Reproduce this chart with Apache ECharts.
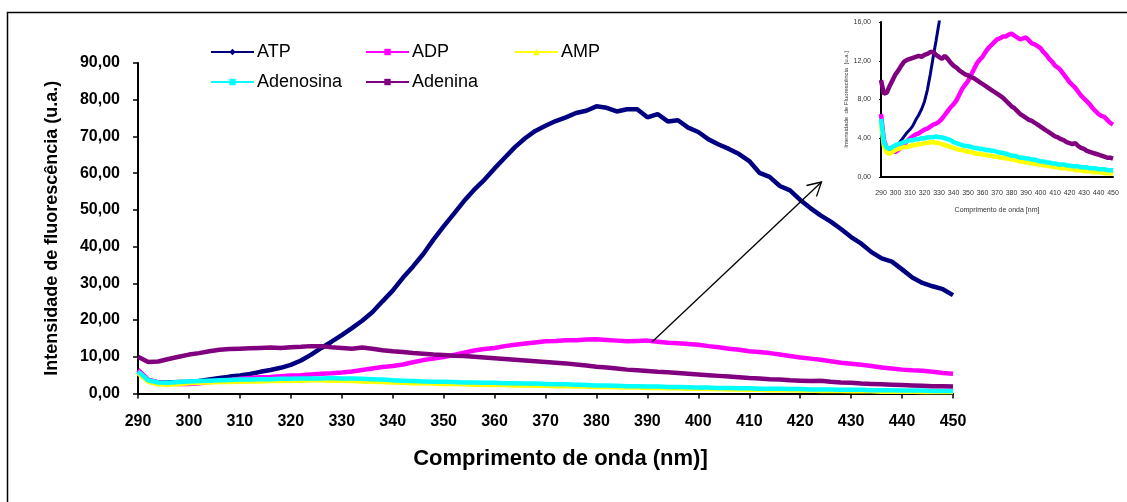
<!DOCTYPE html>
<html>
<head>
<meta charset="utf-8">
<script src="https://cdn.jsdelivr.net/npm/echarts@6/dist/echarts.min.js"></script>
<style>
  html, body { margin: 0; padding: 0; background: #fff; }
  #chart { width: 1127px; height: 502px; }
</style>
</head>
<body>
<div id="chart"></div>
<script>
// Emission spectra (fluorescence intensity, u.a.) vs wavelength (nm)
const wavelengths = [
  290,292,294,296,298,300,302,304,306,308,310,312,314,316,318,320,322,324,326,328,
  330,332,334,336,338,340,342,344,346,348,350,352,354,356,358,360,362,364,366,368,
  370,372,374,376,378,380,382,384,386,388,390,392,394,396,398,400,402,404,406,408,
  410,412,414,416,418,420,422,424,426,428,430,432,434,436,438,440,442,444,446,448,450
];

const atp = [
  6.0,3.6,3.0,3.0,3.1,3.2,3.4,3.8,4.2,4.6,4.9,5.3,5.9,6.4,7.0,7.8,9.0,10.6,12.4,14.1,
  15.9,17.8,19.8,22.1,25.1,28.0,31.5,34.6,38.0,41.9,45.5,48.9,52.4,55.5,58.2,61.3,64.2,67.1,69.5,71.5,
  72.9,74.2,75.2,76.4,77.0,78.2,77.8,76.8,77.4,77.4,75.2,76.1,74.1,74.4,72.4,71.2,69.2,67.8,66.6,65.2,
  63.3,60.1,59.0,56.5,55.3,52.7,50.5,48.5,46.8,44.8,42.6,40.8,38.5,36.8,35.9,33.8,31.6,30.1,29.2,28.4,26.8
];

const adp = [
  6.5,3.8,3.0,2.8,2.6,2.6,2.8,3.1,3.4,3.7,4.0,4.2,4.4,4.5,4.7,4.9,5.0,5.2,5.4,5.5,
  5.7,6.0,6.4,6.8,7.2,7.5,7.9,8.5,9.1,9.5,9.9,10.5,11.1,11.7,12.1,12.4,12.9,13.3,13.6,13.9,
  14.2,14.3,14.5,14.5,14.7,14.8,14.6,14.4,14.2,14.3,14.4,14.1,13.8,13.7,13.5,13.3,12.9,12.6,12.2,11.9,
  11.5,11.3,11.0,10.6,10.2,9.8,9.5,9.2,8.8,8.4,8.1,7.8,7.5,7.1,6.8,6.5,6.3,6.2,5.9,5.6,5.4
];

const amp = [
  5.5,3.2,2.5,2.4,2.6,2.8,2.9,3.0,3.1,3.1,3.2,3.3,3.3,3.4,3.4,3.5,3.5,3.6,3.6,3.5,
  3.5,3.4,3.3,3.2,3.1,3.0,2.9,2.8,2.8,2.7,2.6,2.6,2.5,2.4,2.4,2.3,2.3,2.2,2.2,2.1,
  2.1,2.0,2.0,1.9,1.9,1.8,1.8,1.7,1.6,1.6,1.5,1.5,1.4,1.4,1.3,1.3,1.2,1.2,1.1,1.1,
  1.0,1.0,0.9,0.9,0.9,0.8,0.8,0.7,0.7,0.7,0.6,0.6,0.6,0.5,0.5,0.5,0.5,0.4,0.4,0.4,0.4
];

const adenosina = [
  6.0,3.6,3.0,2.9,3.1,3.3,3.4,3.5,3.6,3.7,3.8,3.8,3.9,3.9,4.0,4.0,4.1,4.1,4.1,4.2,
  4.1,4.1,4.0,3.9,3.8,3.6,3.5,3.4,3.3,3.2,3.2,3.1,3.0,3.0,2.9,2.9,2.8,2.8,2.7,2.7,
  2.6,2.5,2.5,2.4,2.3,2.2,2.2,2.1,2.0,2.0,1.9,1.9,1.8,1.8,1.7,1.6,1.6,1.5,1.5,1.4,
  1.4,1.3,1.3,1.3,1.2,1.2,1.1,1.1,1.1,1.0,1.0,1.0,0.9,0.9,0.9,0.8,0.8,0.8,0.7,0.7,0.7
];

const adenina = [
  10.0,8.6,8.7,9.4,10.0,10.6,11.0,11.5,11.9,12.1,12.2,12.3,12.4,12.5,12.4,12.6,12.7,12.9,12.9,12.6,
  12.4,12.2,12.5,12.2,11.8,11.5,11.3,11.0,10.8,10.6,10.5,10.3,10.2,10.0,9.8,9.6,9.4,9.2,9.0,8.8,
  8.6,8.4,8.2,7.9,7.6,7.3,7.1,6.8,6.5,6.3,6.1,5.9,5.8,5.6,5.4,5.2,5.0,4.8,4.6,4.4,
  4.2,4.1,3.9,3.8,3.6,3.5,3.4,3.5,3.2,3.0,2.9,2.7,2.6,2.5,2.4,2.3,2.2,2.1,2.0,2.0,1.9
];

const seriesDefs = [
  { name: 'ATP',       data: atp,       color: '#000080', symbol: 'diamond' },
  { name: 'ADP',       data: adp,       color: '#FF00FF', symbol: 'rect' },
  { name: 'AMP',       data: amp,       color: '#FFFF00', symbol: 'triangle' },
  { name: 'Adenosina', data: adenosina, color: '#00FFFF', symbol: 'rect' },
  { name: 'Adenina',   data: adenina,   color: '#800080', symbol: 'rect' }
];

const FONT = 'Arial, "Liberation Sans", sans-serif';
const fmt = v => v.toFixed(2).replace('.', ',');
const pairs = arr => wavelengths.map((w, i) => [w, arr[i]]);

const series = [];
seriesDefs.forEach(d => {
  // main plot
  series.push({
    name: d.name, type: 'line', xAxisIndex: 0, yAxisIndex: 0,
    data: pairs(d.data), symbol: d.symbol, symbolSize: 5, showSymbol: false,
    color: d.color, lineStyle: { width: 4.5, color: d.color }, animation: false, z: 3
  });
  // zoomed inset
  series.push({
    name: d.name, type: 'line', xAxisIndex: 1, yAxisIndex: 1,
    data: pairs(d.data), symbol: d.symbol, symbolSize: 5, showSymbol: false,
    color: d.color, lineStyle: { width: d.name === 'ATP' ? 3 : 4.5, color: d.color },
    animation: false, clip: true, z: 3
  });
});

const legendBase = {
  orient: 'vertical', itemWidth: 43, itemHeight: 8, itemGap: 12,
  textStyle: { fontFamily: FONT, fontSize: 18, color: '#000', padding: [0, 0, 0, -2] },
  selectedMode: false
};

const option = {
  backgroundColor: '#fff',
  animation: false,
  legend: [
    Object.assign({}, legendBase, { left: 205, top: 38, data: ['ATP', 'Adenosina'] }),
    Object.assign({}, legendBase, { left: 360, top: 38, data: ['ADP', 'Adenina'] }),
    Object.assign({}, legendBase, { left: 509, top: 38, data: ['AMP'] })
  ],
  grid: [
    { left: 138, right: 174, top: 63, bottom: 108.5, containLabel: false },
    { left: 881, right: 14, top: 22, bottom: 325, containLabel: false }
  ],
  xAxis: [
    {
      type: 'value', gridIndex: 0, min: 290, max: 450, interval: 10,
      name: 'Comprimento de onda (nm)]', nameLocation: 'middle', nameGap: 54,
      nameTextStyle: { fontFamily: FONT, fontSize: 22, fontWeight: 'bold', color: '#000', padding: [0, 0, 0, 30] },
      axisLine: { onZero: false, lineStyle: { color: '#000', width: 2 } },
      axisTick: { show: true, length: 5, lineStyle: { color: '#000', width: 1.5 } },
      axisLabel: { fontFamily: FONT, fontSize: 16, fontWeight: 'bold', color: '#000', margin: 20 },
      splitLine: { show: false }
    },
    {
      type: 'value', gridIndex: 1, min: 290, max: 450, interval: 10,
      name: 'Comprimento de onda [nm]', nameLocation: 'middle', nameGap: 30,
      nameTextStyle: { fontFamily: FONT, fontSize: 7, color: '#333' },
      axisLine: { onZero: false, lineStyle: { color: '#000', width: 2 } },
      axisTick: { show: false },
      axisLabel: { fontFamily: FONT, fontSize: 7, color: '#333', margin: 13 },
      splitLine: { show: false }
    }
  ],
  yAxis: [
    {
      type: 'value', gridIndex: 0, min: 0, max: 90, interval: 10,
      name: 'Intensidade de fluorescência (u.a.)', nameLocation: 'middle', nameGap: 77,
      nameTextStyle: { fontFamily: FONT, fontSize: 18, fontWeight: 'bold', color: '#000' },
      axisLine: { show: true, lineStyle: { color: '#000', width: 2 } },
      axisTick: { show: true, length: 5, lineStyle: { color: '#000', width: 1.5 } },
      axisLabel: { fontFamily: FONT, fontSize: 16, fontWeight: 'bold', color: '#000', margin: 18, formatter: fmt },
      splitLine: { show: false }
    },
    {
      type: 'value', gridIndex: 1, min: 0, max: 16, interval: 4,
      name: 'Intensidade  de Fluorescência  [u.a.]', nameLocation: 'middle', nameGap: 30,
      nameTextStyle: { fontFamily: FONT, fontSize: 6, color: '#333' },
      axisLine: { show: true, lineStyle: { color: '#000', width: 2 } },
      axisTick: { show: true, length: 2, lineStyle: { color: '#000', width: 1 } },
      axisLabel: { fontFamily: FONT, fontSize: 7, color: '#333', margin: 10, formatter: fmt },
      splitLine: { show: false }
    }
  ],
  graphic: [
    // outer frame (left and top edges visible)
    { type: 'rect', shape: { x: 7.5, y: 12.5, width: 1300, height: 700 },
      style: { fill: 'none', stroke: '#000', lineWidth: 1.5 }, silent: true, z: 10 },
    // arrow pointing from the ADP band to the inset
    { type: 'line', shape: { x1: 652, y1: 342, x2: 821.5, y2: 182 },
      style: { stroke: '#000', lineWidth: 1.3 }, silent: true, z: 10 },
    { type: 'polyline', shape: { points: [[806.5, 185.5], [821.5, 182], [816.5, 196.5]] },
      style: { stroke: '#000', lineWidth: 1.3, fill: 'none' }, silent: true, z: 10 }
  ],
  series: series
};

const chart = echarts.init(document.getElementById('chart'), null, { renderer: 'canvas' });
chart.setOption(option);
</script>
</body>
</html>
